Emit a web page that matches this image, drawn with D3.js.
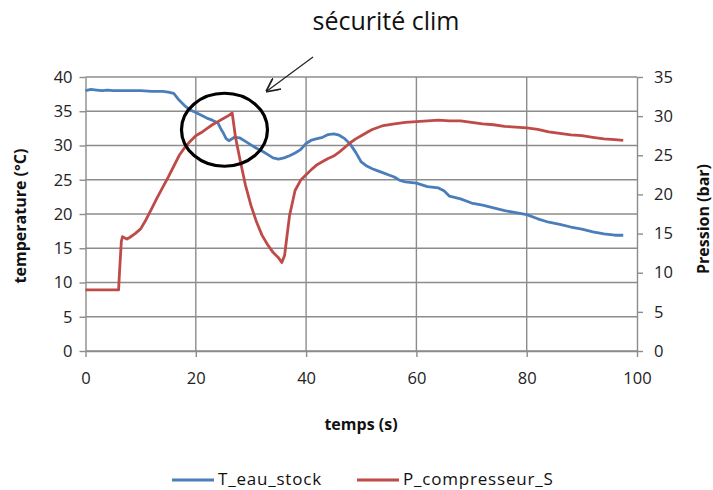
<!DOCTYPE html>
<html><head><meta charset="utf-8">
<script src="https://cdn.jsdelivr.net/npm/d3@7"></script>
<style>body{margin:0;background:#fff;} text{font-family:"Open Sans","Liberation Sans",sans-serif;}</style>
</head><body>
<svg id="c" width="713" height="490"></svg>
<script>
const xTicks = [0,20,40,60,80,100];
const leftTicks = [0,5,10,15,20,25,30,35,40];
const rightTicks = [0,5,10,15,20,25,30,35];
const seriesNames = ["T_eau_stock","P_compresseur_S"];
const tTime = [0,1,2,3,4,5,6,8,10,12,14,15,16,17,18,19,20,21,22,23,24,24.5,25,25.5,26,27,28,29,30,31,32,33,34,35,36,37,38,39,40,41,42,43,44,45,46,47,48,49,50,51,52,53,54,55,56,57,58,60,62,64,65,66,68,70,72,74,76,78,80,82,84,86,88,90,92,94,96,97.5];
const tVals = [38.0,38.2,38.1,38.0,38.1,38.0,38.0,38.0,38.0,37.9,37.9,37.8,37.6,36.6,35.8,35.2,34.8,34.4,34.0,33.7,33.3,32.5,31.8,31.0,30.7,31.2,31.1,30.6,30.1,29.6,29.2,28.7,28.2,28.0,28.2,28.5,28.9,29.4,30.3,30.8,31.0,31.2,31.6,31.7,31.5,31.0,30.2,29.0,27.6,27.0,26.6,26.3,26.0,25.7,25.4,24.9,24.7,24.5,24.0,23.8,23.4,22.6,22.2,21.6,21.3,20.9,20.5,20.2,19.9,19.3,18.8,18.5,18.1,17.8,17.4,17.1,16.9,16.9];
const pTime = [0,2,4,6,6.2,6.5,6.7,7.5,8,9,10,11,12,13,14,15,16,17,18,19,20,21,22,23,24,25,26,26.6,27.2,28,29,30,31,32,33,34,35,35.6,36.1,36.5,37,38,39,40,41,42,43,44,45,46,47,48,49,50,51,52,54,56,58,60,62,64,66,68,70,72,74,76,78,80,82,84,86,88,90,92,94,96,97.5];
const pVals = [7.8,7.8,7.8,7.8,10.5,14.0,14.6,14.3,14.5,15.0,15.6,16.8,18.2,19.6,20.9,22.2,23.6,25.0,26.0,26.8,27.5,27.9,28.4,28.9,29.3,29.7,30.1,30.4,27.3,24.5,21.2,18.6,16.5,14.8,13.6,12.6,11.9,11.3,12.2,14.5,17.3,20.5,21.8,22.5,23.2,23.8,24.2,24.6,24.9,25.4,26.0,26.6,27.1,27.5,27.9,28.3,28.8,29.0,29.2,29.3,29.4,29.5,29.4,29.4,29.2,29.0,28.9,28.7,28.6,28.5,28.3,28.0,27.8,27.6,27.5,27.3,27.1,27.0,26.9];
const annotation = "sécurité clim";
const xLabel = "temps (s)", yLabel = "temperature (°C)", y2Label = "Pression (bar)";

const svg = d3.select("#c");
const x = d3.scaleLinear().domain([0,100]).range([85.5,637]);
const yL = d3.scaleLinear().domain([0,40]).range([351,77]);
const yR = d3.scaleLinear().domain([0,35]).range([351,77]);
const grid = "#8c8c8c";

svg.append("g").selectAll("line").data(leftTicks).join("line")
  .attr("x1",x(0)).attr("x2",x(100)).attr("y1",d=>yL(d)).attr("y2",d=>yL(d))
  .attr("stroke",grid).attr("stroke-width",1.4);
svg.append("g").selectAll("line").data(xTicks.slice(1,-1)).join("line")
  .attr("x1",d=>x(d)).attr("x2",d=>x(d)).attr("y1",yL(40)).attr("y2",yL(0))
  .attr("stroke",grid).attr("stroke-width",1.4);

function styleAxis(g){
  g.select(".domain").attr("stroke",grid).attr("stroke-width",1.4);
  g.selectAll(".tick line").attr("stroke",grid).attr("stroke-width",1.4);
  g.selectAll(".tick text").attr("fill","#222").style("font-size","16.5px")
   .style("font-family","'Open Sans','Liberation Sans',sans-serif");
}
svg.append("g").attr("transform",`translate(${x(0)},0)`)
  .call(d3.axisLeft(yL).tickValues(leftTicks).tickSize(6).tickSizeOuter(0).tickPadding(7))
  .call(styleAxis);
svg.append("g").attr("transform",`translate(${x(100)},0)`)
  .call(d3.axisRight(yR).tickValues(rightTicks).tickSize(6).tickSizeOuter(0).tickPadding(11))
  .call(styleAxis);
svg.append("g").attr("transform",`translate(0,${yL(0)})`)
  .call(d3.axisBottom(x).tickValues(xTicks).tickSize(6).tickSizeOuter(0).tickPadding(15))
  .call(styleAxis);

const lineT = d3.line().x((d,i)=>x(tTime[i])).y(d=>yL(d));
const lineP = d3.line().x((d,i)=>x(pTime[i])).y(d=>yR(d));
svg.append("path").datum(tVals).attr("d",lineT).attr("fill","none")
  .attr("stroke","#4a7ebb").attr("stroke-width",2.8).attr("stroke-linejoin","round");
svg.append("path").datum(pVals).attr("d",lineP).attr("fill","none")
  .attr("stroke","#be4b48").attr("stroke-width",2.8).attr("stroke-linejoin","round");

svg.append("ellipse").attr("cx",x(25.2)).attr("cy",yL(32.3)).attr("rx",43).attr("ry",36.5)
  .attr("fill","none").attr("stroke","#000").attr("stroke-width",3.2);
svg.append("defs").append("marker").attr("id","ar").attr("viewBox","0 0 10 10")
  .attr("refX",9).attr("refY",5).attr("markerWidth",14).attr("markerHeight",14)
  .attr("markerUnits","userSpaceOnUse").attr("orient","auto")
  .append("path").attr("d","M0,0 L10,5 L0,10").attr("fill","none").attr("stroke","#222").attr("stroke-width",1.3);
svg.append("line").attr("x1",313).attr("y1",57).attr("x2",267).attr("y2",91)
  .attr("stroke","#222").attr("stroke-width",1.2).attr("marker-end","url(#ar)");
svg.append("text").attr("x",386).attr("y",30).attr("text-anchor","middle")
  .style("font-size","25px").attr("fill","#111").text(annotation);

svg.append("text").attr("x",361).attr("y",430).attr("text-anchor","middle")
  .style("font-size","16px").style("font-weight","bold").attr("fill","#111").text(xLabel);
svg.append("text").attr("transform","translate(26,216) rotate(-90)").attr("text-anchor","middle")
  .style("font-size","16px").style("font-weight","bold").attr("fill","#111").text(yLabel);
svg.append("text").attr("transform","translate(709,219) rotate(-90)").attr("text-anchor","middle")
  .style("font-size","16px").style("font-weight","bold").attr("fill","#111").text(y2Label);

const leg = [{n:seriesNames[0],c:"#4a7ebb",x:172},{n:seriesNames[1],c:"#be4b48",x:357}];
const lg = svg.append("g").selectAll("g").data(leg).join("g");
lg.append("line").attr("x1",d=>d.x).attr("x2",d=>d.x+42).attr("y1",480).attr("y2",480)
  .attr("stroke",d=>d.c).attr("stroke-width",2.8);
lg.append("text").attr("x",d=>d.x+46).attr("y",485).style("font-size","17px")
  .style("letter-spacing","0.8px").attr("fill","#111").text(d=>d.n);
</script>
</body></html>
